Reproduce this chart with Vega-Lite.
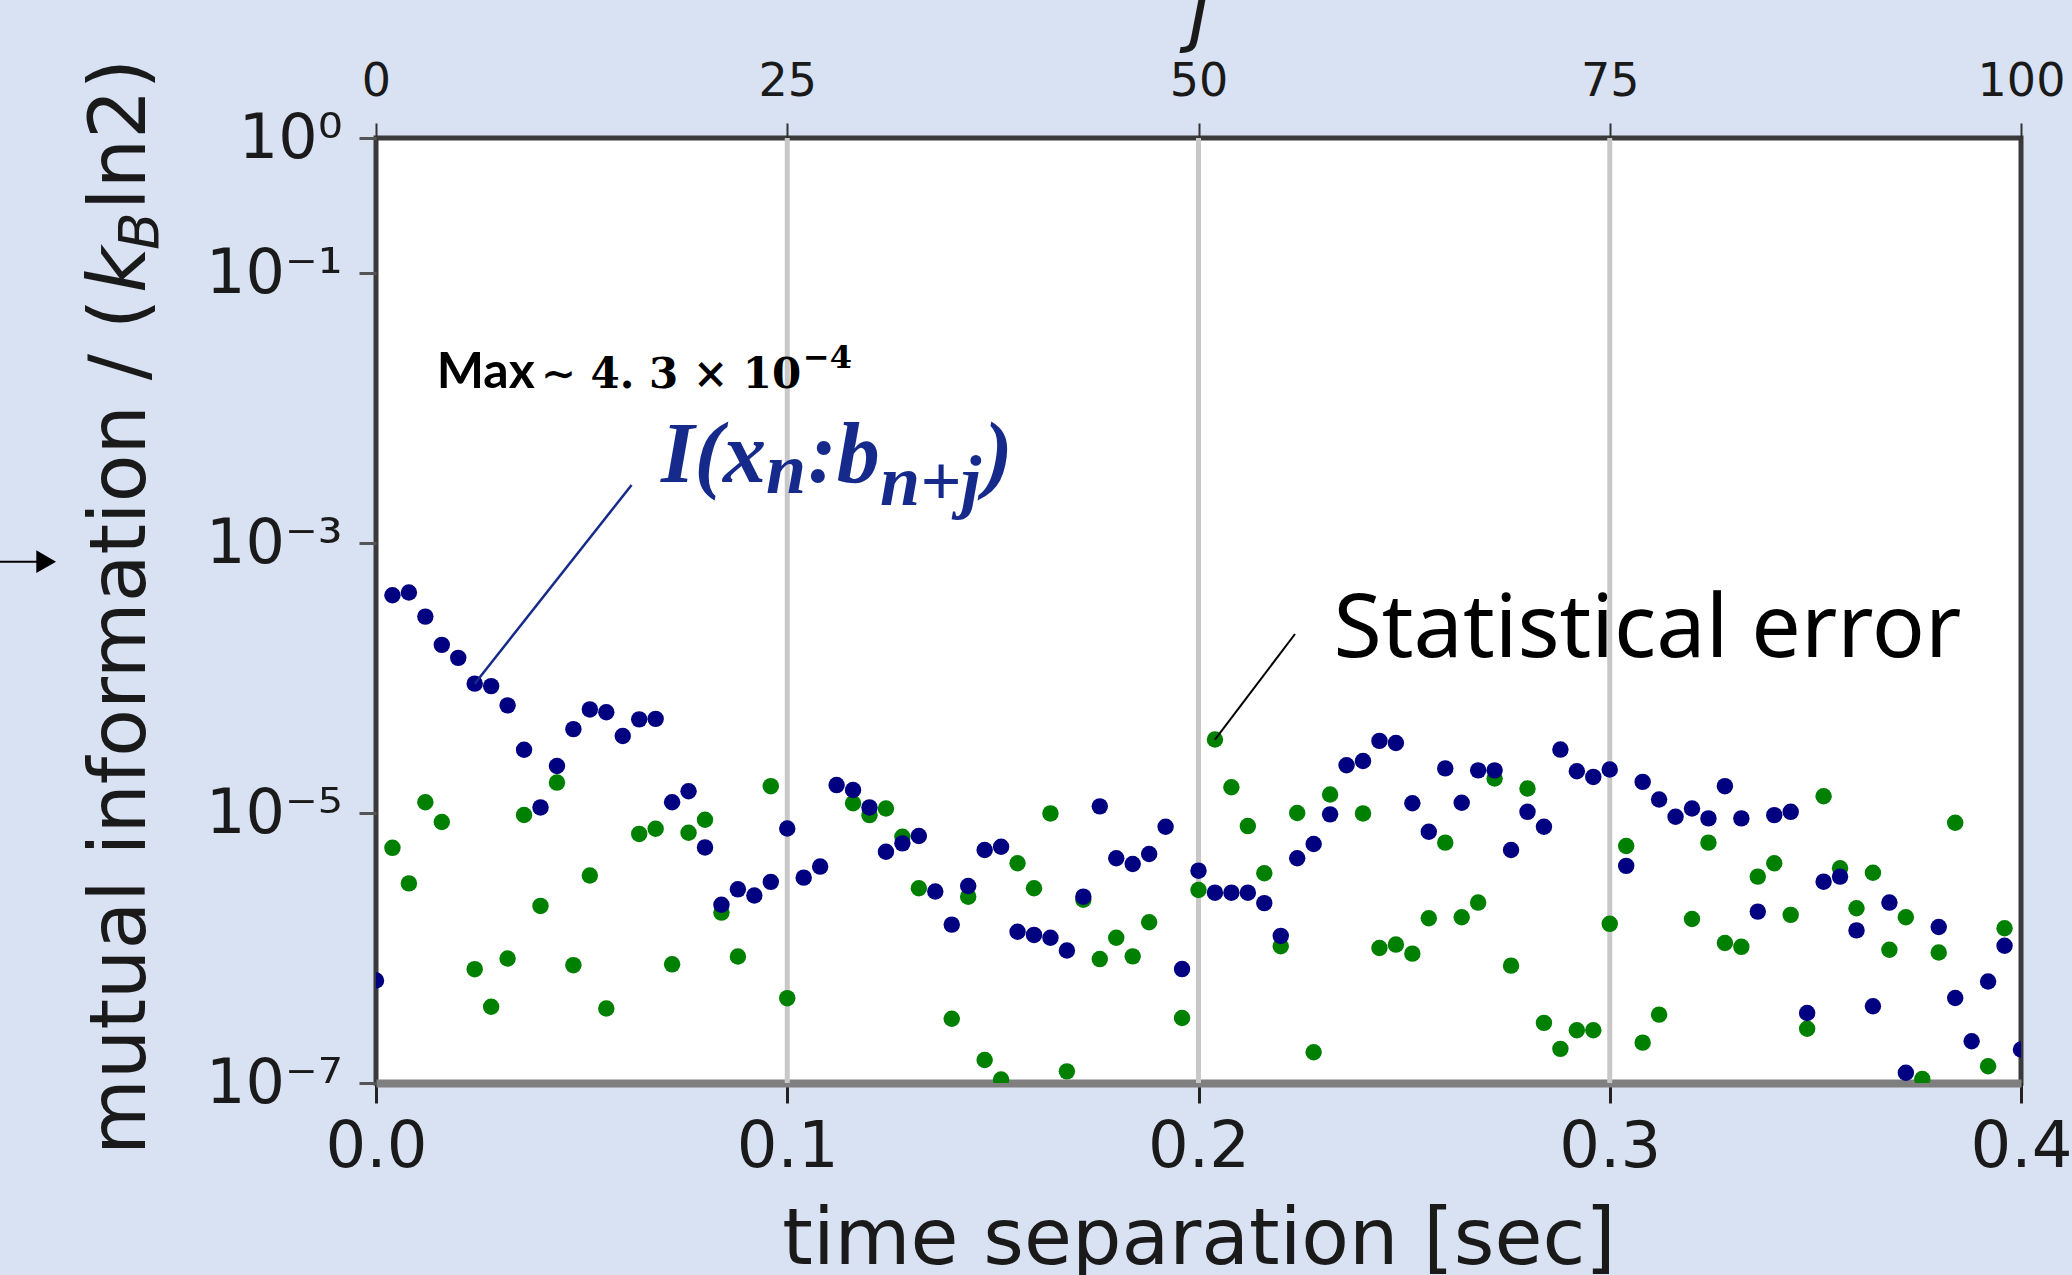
{
"$schema": "https://vega.github.io/schema/vega-lite/v6.json",
"width": 1645, "height": 945,
"autosize": {"type": "none"},
"padding": {"left": 376, "top": 138, "right": 51, "bottom": 192},
"background": "#D9E2F3",
"config": {
  "view": {"fill": "#ffffff", "stroke": "#3a3a3a", "strokeWidth": 5},
  "font": "DejaVu Sans",
  "axis": {"labelFont": "DejaVu Sans", "titleFont": "DejaVu Sans", "labelColor": "#1a1a1a", "titleColor": "#1a1a1a", "titleFontWeight": "normal"}
},
"datasets": {
  "mi": [
    {"s":"err","j":1,"t":0.004,"v":5.52e-6},{"s":"err","j":2,"t":0.008,"v":3.01e-6},{"s":"err","j":3,"t":0.012,"v":1.20e-5},{"s":"err","j":4,"t":0.016,"v":8.57e-6},
    {"s":"err","j":6,"t":0.024,"v":6.97e-7},{"s":"err","j":7,"t":0.028,"v":3.67e-7},{"s":"err","j":8,"t":0.032,"v":8.36e-7},{"s":"err","j":9,"t":0.036,"v":9.66e-6},
    {"s":"err","j":10,"t":0.040,"v":2.05e-6},{"s":"err","j":11,"t":0.044,"v":1.68e-5},{"s":"err","j":12,"t":0.048,"v":7.46e-7},{"s":"err","j":13,"t":0.052,"v":3.44e-6},
    {"s":"err","j":14,"t":0.056,"v":3.56e-7},{"s":"err","j":16,"t":0.064,"v":7.00e-6},{"s":"err","j":17,"t":0.068,"v":7.64e-6},{"s":"err","j":18,"t":0.072,"v":7.57e-7},
    {"s":"err","j":19,"t":0.076,"v":7.14e-6},{"s":"err","j":20,"t":0.080,"v":8.91e-6},{"s":"err","j":21,"t":0.084,"v":1.83e-6},{"s":"err","j":22,"t":0.088,"v":8.65e-7},
    {"s":"err","j":24,"t":0.096,"v":1.58e-5},{"s":"err","j":25,"t":0.100,"v":4.25e-7},{"s":"err","j":29,"t":0.116,"v":1.18e-5},{"s":"err","j":30,"t":0.120,"v":9.64e-6},
    {"s":"err","j":31,"t":0.124,"v":1.08e-5},{"s":"err","j":32,"t":0.128,"v":6.67e-6},{"s":"err","j":33,"t":0.132,"v":2.77e-6},{"s":"err","j":35,"t":0.140,"v":2.99e-7},
    {"s":"err","j":36,"t":0.144,"v":2.40e-6},{"s":"err","j":37,"t":0.148,"v":1.48e-7},{"s":"err","j":38,"t":0.152,"v":1.06e-7},{"s":"err","j":39,"t":0.156,"v":4.24e-6},
    {"s":"err","j":40,"t":0.160,"v":2.77e-6},{"s":"err","j":41,"t":0.164,"v":9.93e-6},{"s":"err","j":42,"t":0.168,"v":1.22e-7},{"s":"err","j":43,"t":0.172,"v":2.28e-6},
    {"s":"err","j":44,"t":0.176,"v":8.28e-7},{"s":"err","j":45,"t":0.180,"v":1.19e-6},{"s":"err","j":46,"t":0.184,"v":8.67e-7},{"s":"err","j":47,"t":0.188,"v":1.55e-6},
    {"s":"err","j":49,"t":0.196,"v":3.03e-7},{"s":"err","j":50,"t":0.200,"v":2.69e-6},{"s":"err","j":51,"t":0.204,"v":3.50e-5},{"s":"err","j":52,"t":0.208,"v":1.55e-5},
    {"s":"err","j":53,"t":0.212,"v":8.00e-6},{"s":"err","j":54,"t":0.216,"v":3.58e-6},{"s":"err","j":55,"t":0.220,"v":1.03e-6},{"s":"err","j":56,"t":0.224,"v":1.00e-5},
    {"s":"err","j":57,"t":0.228,"v":1.69e-7},{"s":"err","j":58,"t":0.232,"v":1.37e-5},{"s":"err","j":60,"t":0.240,"v":9.93e-6},{"s":"err","j":61,"t":0.244,"v":1.00e-6},
    {"s":"err","j":62,"t":0.248,"v":1.06e-6},{"s":"err","j":63,"t":0.252,"v":9.08e-7},{"s":"err","j":64,"t":0.256,"v":1.66e-6},{"s":"err","j":65,"t":0.260,"v":6.03e-6},
    {"s":"err","j":66,"t":0.264,"v":1.69e-6},{"s":"err","j":67,"t":0.268,"v":2.17e-6},{"s":"err","j":68,"t":0.272,"v":1.80e-5},{"s":"err","j":69,"t":0.276,"v":7.40e-7},
    {"s":"err","j":70,"t":0.280,"v":1.52e-5},{"s":"err","j":71,"t":0.284,"v":2.79e-7},{"s":"err","j":72,"t":0.288,"v":1.79e-7},{"s":"err","j":73,"t":0.292,"v":2.46e-7},
    {"s":"err","j":74,"t":0.296,"v":2.46e-7},{"s":"err","j":75,"t":0.300,"v":1.51e-6},{"s":"err","j":76,"t":0.304,"v":5.69e-6},{"s":"err","j":77,"t":0.308,"v":1.99e-7},
    {"s":"err","j":78,"t":0.312,"v":3.21e-7},{"s":"err","j":80,"t":0.320,"v":1.64e-6},{"s":"err","j":81,"t":0.324,"v":6.03e-6},{"s":"err","j":82,"t":0.328,"v":1.09e-6},
    {"s":"err","j":83,"t":0.332,"v":1.02e-6},{"s":"err","j":84,"t":0.336,"v":3.38e-6},{"s":"err","j":85,"t":0.340,"v":4.24e-6},{"s":"err","j":86,"t":0.344,"v":1.76e-6},
    {"s":"err","j":87,"t":0.348,"v":2.52e-7},{"s":"err","j":88,"t":0.352,"v":1.33e-5},{"s":"err","j":89,"t":0.356,"v":3.90e-6},{"s":"err","j":90,"t":0.360,"v":1.97e-6},
    {"s":"err","j":91,"t":0.364,"v":3.61e-6},{"s":"err","j":92,"t":0.368,"v":9.70e-7},{"s":"err","j":93,"t":0.372,"v":1.69e-6},{"s":"err","j":94,"t":0.376,"v":1.07e-7},
    {"s":"err","j":95,"t":0.380,"v":9.27e-7},{"s":"err","j":96,"t":0.384,"v":8.47e-6},{"s":"err","j":98,"t":0.392,"v":1.33e-7},{"s":"err","j":99,"t":0.396,"v":1.40e-6},
    {"s":"I","j":0,"t":0.000,"v":5.75e-7},{"s":"I","j":1,"t":0.004,"v":4.10e-4},{"s":"I","j":2,"t":0.008,"v":4.30e-4},{"s":"I","j":3,"t":0.012,"v":2.85e-4},
    {"s":"I","j":4,"t":0.016,"v":1.76e-4},{"s":"I","j":5,"t":0.020,"v":1.41e-4},{"s":"I","j":6,"t":0.024,"v":9.08e-5},{"s":"I","j":7,"t":0.028,"v":8.71e-5},
    {"s":"I","j":8,"t":0.032,"v":6.27e-5},{"s":"I","j":9,"t":0.036,"v":2.94e-5},{"s":"I","j":10,"t":0.040,"v":1.10e-5},{"s":"I","j":11,"t":0.044,"v":2.23e-5},
    {"s":"I","j":12,"t":0.048,"v":4.18e-5},{"s":"I","j":13,"t":0.052,"v":5.85e-5},{"s":"I","j":14,"t":0.056,"v":5.58e-5},{"s":"I","j":15,"t":0.060,"v":3.72e-5},
    {"s":"I","j":16,"t":0.064,"v":4.94e-5},{"s":"I","j":17,"t":0.068,"v":4.98e-5},{"s":"I","j":18,"t":0.072,"v":1.20e-5},{"s":"I","j":19,"t":0.076,"v":1.45e-5},
    {"s":"I","j":20,"t":0.080,"v":5.56e-6},{"s":"I","j":21,"t":0.084,"v":2.09e-6},{"s":"I","j":22,"t":0.088,"v":2.72e-6},{"s":"I","j":23,"t":0.092,"v":2.45e-6},
    {"s":"I","j":24,"t":0.096,"v":3.09e-6},{"s":"I","j":25,"t":0.100,"v":7.67e-6},{"s":"I","j":26,"t":0.104,"v":3.32e-6},{"s":"I","j":27,"t":0.108,"v":4.01e-6},
    {"s":"I","j":28,"t":0.112,"v":1.61e-5},{"s":"I","j":29,"t":0.116,"v":1.48e-5},{"s":"I","j":30,"t":0.120,"v":1.10e-5},{"s":"I","j":31,"t":0.124,"v":5.16e-6},
    {"s":"I","j":32,"t":0.128,"v":5.96e-6},{"s":"I","j":33,"t":0.132,"v":6.75e-6},{"s":"I","j":34,"t":0.136,"v":2.62e-6},{"s":"I","j":35,"t":0.140,"v":1.49e-6},
    {"s":"I","j":36,"t":0.144,"v":2.88e-6},{"s":"I","j":37,"t":0.148,"v":5.32e-6},{"s":"I","j":38,"t":0.152,"v":5.62e-6},{"s":"I","j":39,"t":0.156,"v":1.32e-6},
    {"s":"I","j":40,"t":0.160,"v":1.25e-6},{"s":"I","j":41,"t":0.164,"v":1.19e-6},{"s":"I","j":42,"t":0.168,"v":9.59e-7},{"s":"I","j":43,"t":0.172,"v":2.40e-6},
    {"s":"I","j":44,"t":0.176,"v":1.12e-5},{"s":"I","j":45,"t":0.180,"v":4.62e-6},{"s":"I","j":46,"t":0.184,"v":4.19e-6},{"s":"I","j":47,"t":0.188,"v":4.97e-6},
    {"s":"I","j":48,"t":0.192,"v":7.91e-6},{"s":"I","j":49,"t":0.196,"v":6.98e-7},{"s":"I","j":50,"t":0.200,"v":3.74e-6},{"s":"I","j":51,"t":0.204,"v":2.57e-6},
    {"s":"I","j":52,"t":0.208,"v":2.57e-6},{"s":"I","j":53,"t":0.212,"v":2.57e-6},{"s":"I","j":54,"t":0.216,"v":2.15e-6},{"s":"I","j":55,"t":0.220,"v":1.23e-6},
    {"s":"I","j":56,"t":0.224,"v":4.62e-6},{"s":"I","j":57,"t":0.228,"v":5.89e-6},{"s":"I","j":58,"t":0.232,"v":9.77e-6},{"s":"I","j":59,"t":0.236,"v":2.26e-5},
    {"s":"I","j":60,"t":0.240,"v":2.43e-5},{"s":"I","j":61,"t":0.244,"v":3.42e-5},{"s":"I","j":62,"t":0.248,"v":3.30e-5},{"s":"I","j":63,"t":0.252,"v":1.18e-5},
    {"s":"I","j":64,"t":0.256,"v":7.26e-6},{"s":"I","j":65,"t":0.260,"v":2.14e-5},{"s":"I","j":66,"t":0.264,"v":1.19e-5},{"s":"I","j":67,"t":0.268,"v":2.07e-5},
    {"s":"I","j":68,"t":0.272,"v":2.07e-5},{"s":"I","j":69,"t":0.276,"v":5.32e-6},{"s":"I","j":70,"t":0.280,"v":1.02e-5},{"s":"I","j":71,"t":0.284,"v":7.91e-6},
    {"s":"I","j":72,"t":0.288,"v":2.95e-5},{"s":"I","j":73,"t":0.292,"v":2.04e-5},{"s":"I","j":74,"t":0.296,"v":1.85e-5},{"s":"I","j":75,"t":0.300,"v":2.10e-5},
    {"s":"I","j":76,"t":0.304,"v":4.06e-6},{"s":"I","j":77,"t":0.308,"v":1.70e-5},{"s":"I","j":78,"t":0.312,"v":1.26e-5},{"s":"I","j":79,"t":0.316,"v":9.38e-6},
    {"s":"I","j":80,"t":0.320,"v":1.08e-5},{"s":"I","j":81,"t":0.324,"v":9.12e-6},{"s":"I","j":82,"t":0.328,"v":1.58e-5},{"s":"I","j":83,"t":0.332,"v":9.12e-6},
    {"s":"I","j":84,"t":0.336,"v":1.86e-6},{"s":"I","j":85,"t":0.340,"v":9.64e-6},{"s":"I","j":86,"t":0.344,"v":1.02e-5},{"s":"I","j":87,"t":0.348,"v":3.30e-7},
    {"s":"I","j":88,"t":0.352,"v":3.10e-6},{"s":"I","j":89,"t":0.356,"v":3.38e-6},{"s":"I","j":90,"t":0.360,"v":1.35e-6},{"s":"I","j":91,"t":0.364,"v":3.70e-7},
    {"s":"I","j":92,"t":0.368,"v":2.17e-6},{"s":"I","j":93,"t":0.372,"v":1.19e-7},{"s":"I","j":95,"t":0.380,"v":1.43e-6},{"s":"I","j":96,"t":0.384,"v":4.26e-7},
    {"s":"I","j":97,"t":0.388,"v":2.04e-7},{"s":"I","j":98,"t":0.392,"v":5.65e-7},{"s":"I","j":99,"t":0.396,"v":1.04e-6},{"s":"I","j":100,"t":0.400,"v":1.77e-7}
  ]
},
"resolve": {"scale": {"x": "independent"}},
"layer": [
  {
    "data": {"values": [{"j": 0}, {"j": 100}]},
    "mark": {"type": "point", "opacity": 0},
    "encoding": {
      "x": {"field": "j", "type": "quantitative", "scale": {"domain": [0, 100], "nice": false},
        "axis": {"orient": "top", "values": [0, 25, 50, 75, 100], "labelFontSize": 46, "labelPadding": 18, "tickSize": 15, "tickWidth": 2, "tickColor": "#333333", "domain": false, "grid": false, "labelFlush": false,
          "title": "j", "titleFontSize": 78, "titleFontStyle": "italic", "titleBaseline": "alphabetic", "titleY": -102}}
    }
  },
  {
    "layer": [
      {
        "data": {"values": [{"t": 0.1}, {"t": 0.2}, {"t": 0.3}]},
        "mark": {"type": "rule", "color": "#c8c8c8", "strokeWidth": 5},
        "encoding": {"x": {"field": "t", "type": "quantitative", "title": "time separation [sec]"}}
      },
      {
        "data": {"name": "mi"},
        "mark": {"type": "circle", "size": 270, "opacity": 1, "clip": true},
        "encoding": {
          "x": {"field": "t", "type": "quantitative", "title": "time separation [sec]", "scale": {"domain": [0, 0.4], "nice": false, "zero": false},
            "axis": {"orient": "bottom", "values": [0, 0.1, 0.2, 0.3, 0.4], "format": ".1f", "labelFontSize": 64, "labelPadding": 12, "tickSize": 20, "tickWidth": 3, "tickColor": "#222222", "domainColor": "#7f7f7f", "domainWidth": 8, "grid": false, "labelFlush": false,
              "title": "time separation [sec]", "titleFontSize": 78, "titleBaseline": "alphabetic", "titleY": 180}},
          "y": {"field": "v", "type": "quantitative", "title": null, "scale": {"type": "log", "domain": [1e-7, 1], "nice": false},
            "axis": {"values": [1, 0.1, 0.001, 0.00001, 0.0000001], "labelExpr": "datum.value > 0.5 ? '10⁰' : datum.value > 0.05 ? '10⁻¹' : datum.value > 0.0005 ? '10⁻³' : datum.value > 0.000005 ? '10⁻⁵' : '10⁻⁷'", "labelFontSize": 62, "labelPadding": 17, "tickSize": 17, "tickWidth": 3, "tickColor": "#555555", "domain": false, "grid": false, "labelFlush": false, "title": null}},
          "color": {"field": "s", "type": "nominal", "scale": {"domain": ["err", "I"], "range": ["#008000", "#000080"]}, "legend": null}
        }
      },
      {
        "data": {"values": [{"t": 0.024, "v": 9.08e-5, "t2": 0.06215, "v2": 0.002689}]},
        "mark": {"type": "rule", "color": "#152a8a", "strokeWidth": 2.5},
        "encoding": {"x": {"field": "t", "type": "quantitative", "title": "time separation [sec]"}, "y": {"field": "v", "type": "quantitative", "title": null}, "x2": {"field": "t2"}, "y2": {"field": "v2"}}
      },
      {
        "data": {"values": [{"t": 0.204, "v": 3.5e-5, "t2": 0.22347, "v2": 0.0002118}]},
        "mark": {"type": "rule", "color": "#000000", "strokeWidth": 2},
        "encoding": {"x": {"field": "t", "type": "quantitative", "title": "time separation [sec]"}, "y": {"field": "v", "type": "quantitative", "title": null}, "x2": {"field": "t2"}, "y2": {"field": "v2"}}
      },
      {
        "data": {"values": [{"t": -0.09143, "v": 0.000727, "t2": -0.0805, "v2": 0.000727}]},
        "mark": {"type": "rule", "color": "#000000", "strokeWidth": 2},
        "encoding": {"x": {"field": "t", "type": "quantitative", "title": "time separation [sec]"}, "y": {"field": "v", "type": "quantitative", "title": null}, "x2": {"field": "t2"}, "y2": {"field": "v2"}}
      },
      {
        "data": {"values": [{"t": -0.0802, "v": 0.000727}]},
        "mark": {"type": "point", "shape": "triangle-right", "filled": true, "size": 520, "color": "#000000", "opacity": 1},
        "encoding": {"x": {"field": "t", "type": "quantitative", "title": "time separation [sec]"}, "y": {"field": "v", "type": "quantitative", "title": null}}
      },
      {
        "data": {"values": [{"label": "Max", "t": 0.01476, "v": 0.0140}]},
        "mark": {"type": "text", "font": "Lato", "fontWeight": "bold", "fontSize": 50, "align": "left", "baseline": "alphabetic", "color": "#000000"},
        "encoding": {"x": {"field": "t", "type": "quantitative", "title": "time separation [sec]"}, "y": {"field": "v", "type": "quantitative", "title": null}, "text": {"field": "label"}}
      },
      {
        "data": {"values": [{"label": "∼ 4. 3 × 10", "t": 0.04007, "v": 0.0140}]},
        "mark": {"type": "text", "font": "DejaVu Serif", "fontWeight": "bold", "fontSize": 42, "align": "left", "baseline": "alphabetic", "color": "#000000"},
        "encoding": {"x": {"field": "t", "type": "quantitative", "title": "time separation [sec]"}, "y": {"field": "v", "type": "quantitative", "title": null}, "text": {"field": "label"}}
      },
      {
        "data": {"values": [{"label": "−4", "t": 0.10380, "v": 0.01978}]},
        "mark": {"type": "text", "font": "DejaVu Serif", "fontWeight": "bold", "fontSize": 32, "align": "left", "baseline": "alphabetic", "color": "#000000"},
        "encoding": {"x": {"field": "t", "type": "quantitative", "title": "time separation [sec]"}, "y": {"field": "v", "type": "quantitative", "title": null}, "text": {"field": "label"}}
      },
      {
        "data": {"values": [{"label": "I(x", "t": 0.0693, "v": 0.00283}, {"label": ":b", "t": 0.10505, "v": 0.00283}, {"label": ")", "t": 0.14784, "v": 0.00283}]},
        "mark": {"type": "text", "font": "Liberation Serif", "fontWeight": "bold", "fontStyle": "italic", "fontSize": 86, "align": "left", "baseline": "alphabetic", "color": "#152a8a"},
        "encoding": {"x": {"field": "t", "type": "quantitative", "title": "time separation [sec]"}, "y": {"field": "v", "type": "quantitative", "title": null}, "text": {"field": "label"}}
      },
      {
        "data": {"values": [{"label": "n", "t": 0.09483, "v": 0.002346}, {"label": "n+j", "t": 0.12255, "v": 0.001912}]},
        "mark": {"type": "text", "font": "Liberation Serif", "fontWeight": "bold", "fontStyle": "italic", "fontSize": 72, "align": "left", "baseline": "alphabetic", "color": "#152a8a"},
        "encoding": {"x": {"field": "t", "type": "quantitative", "title": "time separation [sec]"}, "y": {"field": "v", "type": "quantitative", "title": null}, "text": {"field": "label"}}
      },
      {
        "data": {"values": [{"label": "Statistical error", "t": 0.23283, "v": 0.0001438}]},
        "mark": {"type": "text", "font": "Noto Sans", "fontSize": 88, "align": "left", "baseline": "alphabetic", "color": "#000000"},
        "encoding": {"x": {"field": "t", "type": "quantitative", "title": "time separation [sec]"}, "y": {"field": "v", "type": "quantitative", "title": null}, "text": {"field": "label"}}
      },
      {
        "data": {"values": [{"label": "mutual information / (", "t": -0.05617, "v": 2.93e-8}, {"label": "ln2)", "t": -0.05617, "v": 0.2928}]},
        "mark": {"type": "text", "font": "DejaVu Sans", "fontSize": 78, "angle": 270, "align": "left", "baseline": "alphabetic", "color": "#1a1a1a"},
        "encoding": {"x": {"field": "t", "type": "quantitative", "title": "time separation [sec]"}, "y": {"field": "v", "type": "quantitative", "title": null}, "text": {"field": "label"}}
      },
      {
        "data": {"values": [{"label": "k", "t": -0.05617, "v": 0.0711}]},
        "mark": {"type": "text", "font": "DejaVu Sans", "fontStyle": "italic", "fontSize": 80, "angle": 270, "align": "left", "baseline": "alphabetic", "color": "#1a1a1a"},
        "encoding": {"x": {"field": "t", "type": "quantitative", "title": "time separation [sec]"}, "y": {"field": "v", "type": "quantitative", "title": null}, "text": {"field": "label"}}
      },
      {
        "data": {"values": [{"label": "B", "t": -0.05301, "v": 0.148}]},
        "mark": {"type": "text", "font": "DejaVu Sans", "fontStyle": "italic", "fontSize": 55, "angle": 270, "align": "left", "baseline": "alphabetic", "color": "#1a1a1a"},
        "encoding": {"x": {"field": "t", "type": "quantitative", "title": "time separation [sec]"}, "y": {"field": "v", "type": "quantitative", "title": null}, "text": {"field": "label"}}
      }
    ]
  }
]
}
